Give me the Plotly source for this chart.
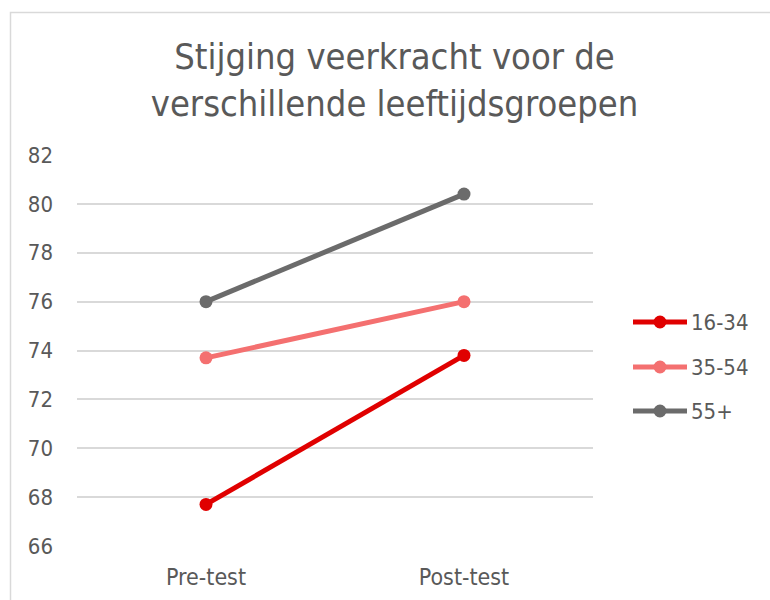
import plotly.graph_objects as go

# Data
categories = ["Pre-test", "Post-test"]
groups = ["16-34", "35-54", "55+"]
values = {
    "16-34": [67.7, 73.8],
    "35-54": [73.7, 76.0],
    "55+": [76.0, 80.4],
}
colors = {"16-34": "#E00000", "35-54": "#F47070", "55+": "#6B6B6B"}

W, H = 770, 600
L, R, T, B = 77, 177, 155, 54
pw, ph = W - L - R, H - T - B
FONT = "DejaVu Sans Condensed"

fig = go.Figure()
for g in groups:
    fig.add_trace(go.Scatter(
        x=categories, y=values[g], name=g, mode="lines+markers",
        line=dict(color=colors[g], width=5),
        marker=dict(color=colors[g], size=13),
        showlegend=False,
    ))

def px_x(p):
    return (p - L) / pw

def px_y(p):
    return (H - B - p) / ph

shapes = []
annotations = []
# Custom legend
leg_y = [322, 367, 411]
for g, ly in zip(groups, leg_y):
    shapes.append(dict(type="line", xref="paper", yref="paper",
                       x0=px_x(633), x1=px_x(687), y0=px_y(ly), y1=px_y(ly),
                       line=dict(color=colors[g], width=5)))
    shapes.append(dict(type="circle", xref="paper", yref="paper",
                       x0=px_x(653.5), x1=px_x(666.5), y0=px_y(ly + 6.5), y1=px_y(ly - 6.5),
                       fillcolor=colors[g], line=dict(width=0)))
    annotations.append(dict(xref="paper", yref="paper", x=px_x(689), y=px_y(ly),
                            text=g, showarrow=False, xanchor="left", yanchor="middle",
                            font=dict(size=22, color="#595959", family=FONT)))

# Chart frame
shapes.append(dict(type="rect", xref="paper", yref="paper",
                   x0=px_x(10.5), x1=px_x(800), y0=px_y(12.5), y1=px_y(640),
                   line=dict(color="#D9D9D9", width=1.5), fillcolor="rgba(0,0,0,0)",
                   layer="below"))

fig.update_layout(
    width=W, height=H,
    margin=dict(l=L, r=R, t=T, b=B, autoexpand=False),
    paper_bgcolor="white", plot_bgcolor="white",
    font=dict(family=FONT, color="#595959"),
    title=dict(text="Stijging veerkracht voor de<br>verschillende leeftijdsgroepen",
               x=394.5 / W, xanchor="center", y=1 - 69 / H, yanchor="middle",
               font=dict(size=36, color="#595959", family=FONT)),
    shapes=shapes,
    annotations=annotations,
    xaxis=dict(range=[-0.5, 1.5], showgrid=False, zeroline=False, showline=False,
               tickfont=dict(size=23, color="#595959", family=FONT),
               ticks="", ticklabelstandoff=15, automargin=False),
    yaxis=dict(range=[66, 82], dtick=2, showgrid=True, gridcolor="#D9D9D9", gridwidth=1.5,
               zeroline=False, showline=False, ticks="", automargin=False,
               tickfont=dict(size=22, color="#595959", family=FONT),
               ticklabelstandoff=23),
)

fig.write_html("out.html")
